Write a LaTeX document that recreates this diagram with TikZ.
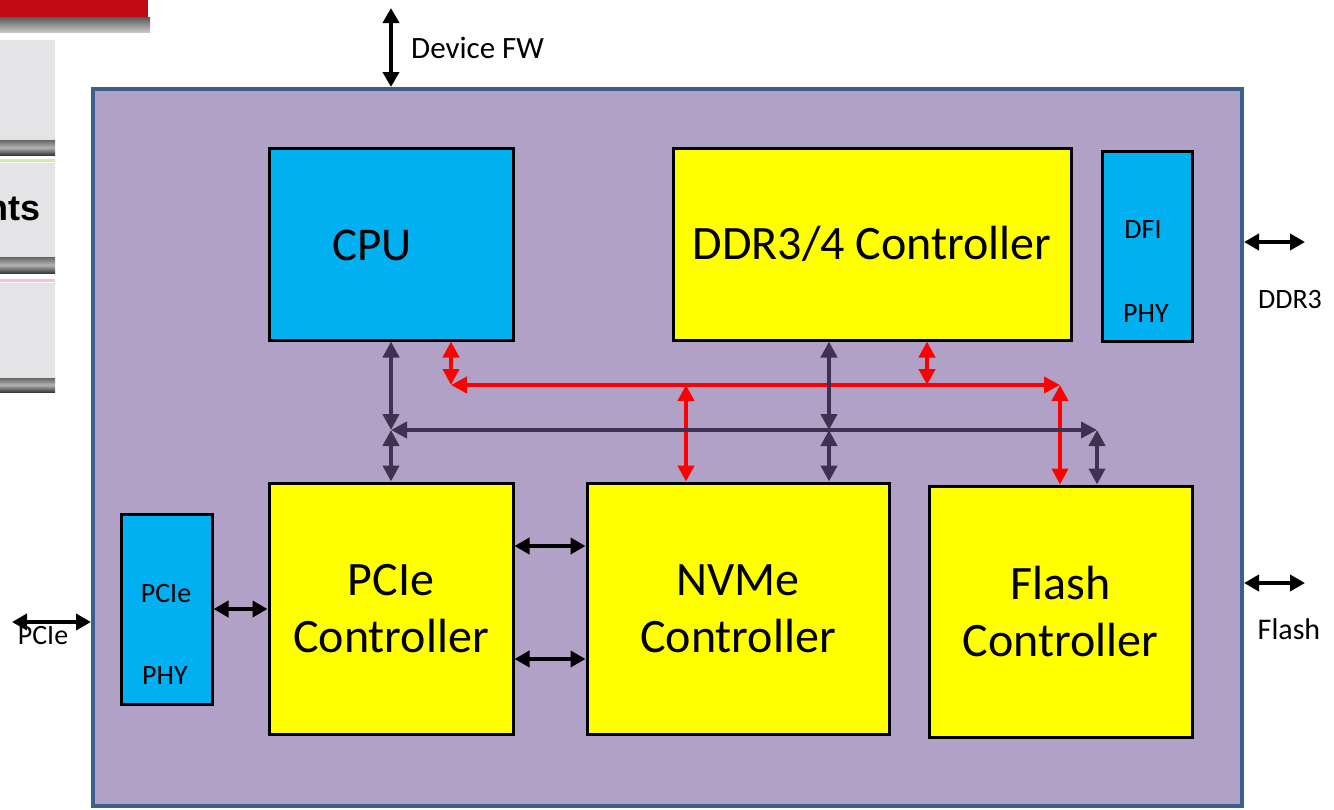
\documentclass[tikz,border=0pt]{standalone}
\usepackage{fontspec}
\setmainfont{Carlito}
\newfontfamily\slidefont{Liberation Sans}
\usetikzlibrary{arrows.meta}

\definecolor{chipfill}{HTML}{B2A1C7}
\definecolor{chipedge}{HTML}{3D5F8D}
\definecolor{blockblue}{HTML}{00B0F0}
\definecolor{blockyellow}{HTML}{FFFF00}
\definecolor{busdark}{HTML}{3F3151}
\definecolor{busred}{HTML}{FF0000}
\definecolor{slidered}{HTML}{C00A14}
\definecolor{slidegray}{HTML}{E4E3E5}

\tikzset{
  x=1pt, y=-1pt,
  chipbox/.style={draw=chipedge, fill=chipfill, line width=4pt, minimum width=1149pt, minimum height=717pt, inner sep=0pt},
  phybox/.style={draw=black, fill=blockblue, line width=3pt, inner sep=0pt},
  ctrlbox/.style={draw=black, fill=blockyellow, line width=3pt, inner sep=0pt, align=center,
    font=\fontsize{48}{57}\selectfont},
  bigtext/.style={font=\fontsize{47}{52}\selectfont},
  smalltext/.style={font=\fontsize{28}{32}\selectfont, inner sep=0pt},
  iolink/.style={draw=black, line width=4pt, {Triangle[length=15pt,width=16pt]}-{Triangle[length=15pt,width=16pt]}},
  darkbus/.style={draw=busdark, line width=4.5pt, {Triangle[length=16pt,width=16pt]}-{Triangle[length=16pt,width=16pt]}},
  redbus/.style={draw=busred, line width=4.5pt, {Triangle[length=16pt,width=16pt]}-{Triangle[length=16pt,width=16pt]}},
}

\begin{document}
\begin{tikzpicture}
\useasboundingbox (0,0) rectangle (1334,809);
\clip (0,0) rectangle (1334,809);

% neighbouring slide menu at the left edge
\fill[slidered] (0,0) rectangle (148,18);
\shade[top color=gray!70!black, bottom color=gray!45] (0,17) rectangle (150,32);
\fill[slidegray] (0,40) rectangle (55,140);
\shade[top color=gray!80!black, bottom color=gray!45!black, middle color=gray!60] (0,140) rectangle (55,155);
\fill[yellow!50!green!35] (0,159) rectangle (55,162);
\fill[slidegray] (0,163) rectangle (55,257);
\shade[top color=gray!80!black, bottom color=gray!45!black, middle color=gray!60] (0,257) rectangle (55,273);
\fill[magenta!25] (0,279) rectangle (55,282);
\fill[slidegray] (0,283) rectangle (55,378);
\shade[top color=gray!80!black, bottom color=gray!45!black, middle color=gray!60] (0,378) rectangle (55,392);
\node[anchor=base east, inner sep=0pt, font=\slidefont\bfseries\fontsize{36}{40}\selectfont] (menutxt) at (41,220) {nts};

% chip outline
\node[chipbox] (chip) at (667.5,447.5) {};

% blocks
\node[phybox, minimum width=244pt, minimum height=192pt] (cpu) at (391,244) {};
\node[bigtext] (cputxt) at (372,245) {CPU};
\node[ctrlbox, minimum width=398pt, minimum height=192pt] (ddr) at (872,244) {DDR3/4 Controller};
\node[phybox, minimum width=90pt, minimum height=190pt] (dfi) at (1147,246) {};
\node[smalltext] (dfitxt) at (1143,230) {DFI};
\node[smalltext] (dfiphy) at (1146,314) {PHY};

\node[phybox, minimum width=91pt, minimum height=190pt] (pphy) at (166.5,609) {};
\node[smalltext] (pphytxt) at (166,594) {PCIe};
\node[smalltext] (pphyphy) at (165,676) {PHY};

\node[ctrlbox, minimum width=244pt, minimum height=251pt] (pcie) at (391,608.5) {PCIe\\Controller};
\node[ctrlbox, minimum width=302pt, minimum height=251pt] (nvme) at (738,608.5) {NVMe\\Controller};
\node[ctrlbox, minimum width=263pt, minimum height=251pt] (flash) at (1060.5,611.5) {Flash\\Controller};

% bus junctions
\coordinate (dkL) at (391,430);
\coordinate (dkD) at (829,430);
\coordinate (dkR) at (1097,430);
\coordinate (rdL) at (451,385);
\coordinate (rdN) at (686,385);
\coordinate (rdD) at (927,385);
\coordinate (rdR) at (1060,385);

% red bus
\draw[redbus] (rdL |- cpu.south) -- (rdL);
\draw[redbus] (rdD |- ddr.south) -- (rdD);
\draw[redbus] (rdN) -- (rdN |- nvme.north);
\draw[redbus] (rdR) -- (rdR |- flash.north);
\draw[redbus] (rdL) -- (rdR);

% dark bus
\draw[darkbus] (dkL |- cpu.south) -- (dkL);
\draw[darkbus] (dkL) -- (dkL |- pcie.north);
\draw[darkbus] (dkD |- ddr.south) -- (dkD);
\draw[darkbus] (dkD) -- (dkD |- nvme.north);
\draw[darkbus] (dkR) -- (dkR |- flash.north);
\draw[darkbus] (dkL) -- (dkR);

% on-chip links
\coordinate (linkA) at (550,546);
\coordinate (linkB) at (550,659);
\draw[iolink] (pphy.east) -- (pphy.east -| pcie.west);
\draw[iolink] (linkA -| pcie.east) -- (linkA -| nvme.west);
\draw[iolink] (linkB -| pcie.east) -- (linkB -| nvme.west);

% external interfaces
\coordinate (fwEnd) at (391,8);
\coordinate (ddrEnd) at (1305,242);
\coordinate (flEnd) at (1305,583);
\coordinate (pcEnd) at (12,622);
\draw[iolink] (fwEnd) -- (fwEnd |- chip.north);
\draw[iolink] (ddrEnd -| chip.east) -- (ddrEnd);
\draw[iolink] (flEnd -| chip.east) -- (flEnd);
\draw[iolink] (pcEnd) -- (pcEnd -| chip.west);

\node[smalltext, anchor=west, font=\fontsize{31}{34}\selectfont] (fwtxt) at (411,48) {Device FW};
\node[smalltext] (ddrtxt) at (1290,300) {DDR3};
\node[smalltext, font=\fontsize{30}{34}\selectfont] (fltxt) at (1289,629) {Flash};
\node[smalltext] (pctxt) at (43,636) {PCIe};
\end{tikzpicture}
\end{document}
